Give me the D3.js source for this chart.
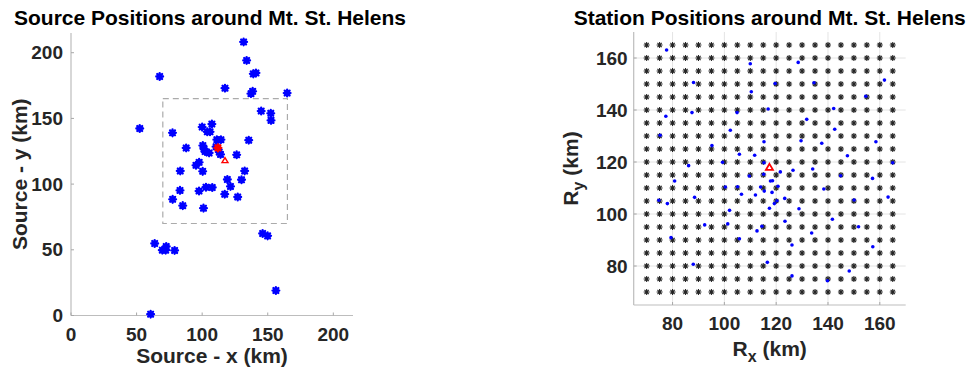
<!DOCTYPE html>
<html>
<head>
<meta charset="utf-8">
<script src="https://cdn.jsdelivr.net/npm/d3@7"></script>
<style>
  html, body { margin: 0; padding: 0; background: #fff; }
  svg { display: block; font-family: "Liberation Sans", Arial, Helvetica, sans-serif; }
</style>
</head>
<body>
<svg id="chart" width="970" height="371"></svg>
<script>
// ---- Source positions (km) ----
const sourceX = [131.6, 133.9, 67.6, 139.0, 141.0, 117.4, 138.5, 137.2, 164.8, 145.0, 152.3, 152.5,
  52.4, 77.4, 100.0, 107.4, 103.9, 106.0, 111.2, 114.3, 135.5, 87.8, 100.5, 101.5, 102.2, 105.3,
  110.6, 113.0, 114.0, 126.3, 95.3, 97.7, 83.3, 100.4, 132.4, 119.2, 130.0, 83.1, 97.6, 102.9,
  107.7, 121.6, 117.2, 127.1, 77.5, 85.2, 101.0, 63.8, 69.6, 72.2, 72.6, 79.0, 146.1, 149.9,
  156.2, 60.7];
const sourceY = [208.2, 194.1, 181.9, 183.9, 184.6, 173.0, 170.6, 168.8, 169.3, 155.6, 153.9, 148.5,
  142.3, 139.0, 143.4, 145.7, 139.8, 139.8, 133.8, 133.8, 133.4, 127.5, 129.3, 126.5, 124.8, 123.7,
  128.5, 124.4, 122.6, 122.3, 114.3, 116.6, 110.0, 109.7, 110.0, 103.5, 103.3, 95.2, 94.7, 97.6,
  97.4, 98.2, 92.3, 90.2, 88.4, 83.6, 81.7, 54.8, 49.7, 49.7, 52.5, 49.5, 62.4, 60.6,
  19.0, 1.0];

// highlighted source and the volcano summit
const highlightSource = [112.0, 127.6];
const summit = [117.4, 117.9];

// station grid limits (km) and spacing
const gridMin = 70, gridMax = 165, gridStep = 5;

// ---- Small blue points in the station panel (km) ----
const pointX = [77.7, 110.0, 88.1, 119.6, 110.4, 77.4, 87.5, 104.9, 116.9, 102.3, 75.2, 115.3,
  95.2, 105.8, 111.7, 86.2, 99.3, 115.3, 128.5, 134.6, 161.8, 154.6, 142.2, 131.8, 142.6, 129.6,
  137.6, 158.5, 147.5, 165.0, 134.1, 126.5, 109.6, 115.2, 117.8, 118.6, 80.8, 100.4, 105.1, 114.0,
  115.4, 106.6, 112.0, 118.4, 119.3, 74.7, 78.0, 88.5, 117.4, 102.0, 92.4, 101.3, 114.5, 112.6,
  79.4, 105.8, 116.6, 88.0, 121.6, 144.9, 157.2, 120.7, 138.4, 120.3, 123.3, 150.1, 163.2, 128.8,
  141.7, 123.4, 151.8, 133.7, 126.1, 157.3, 148.2, 126.1, 139.8];
const pointY = [163.1, 157.8, 150.6, 150.2, 147.0, 137.6, 139.0, 139.0, 140.4, 132.2, 130.3, 127.8,
  126.3, 123.0, 122.6, 118.6, 119.9, 119.7, 158.3, 150.5, 151.5, 145.3, 140.6, 136.4, 132.6, 128.2,
  127.2, 127.8, 122.4, 119.7, 117.3, 116.8, 114.6, 115.3, 112.7, 112.8, 112.7, 110.4, 110.5, 110.4,
  108.8, 107.6, 107.3, 108.3, 104.0, 105.3, 104.0, 106.4, 102.2, 101.4, 95.8, 96.2, 95.3, 93.5,
  90.9, 90.5, 81.4, 80.7, 116.2, 114.7, 113.7, 110.7, 109.6, 105.1, 106.0, 105.4, 106.5, 102.0,
  98.0, 97.2, 95.1, 92.7, 88.1, 87.4, 78.1, 76.2, 74.3];

// ---- Tick labels ----
const leftTicks = [0, 50, 100, 150, 200];
const rightTicks = [80, 100, 120, 140, 160];

const svg = d3.select("#chart");
const axisColor = "#bdbdbd";
const tickTextColor = "#262626";

// asterisk marker path (plus + cross)
function asterisk(r) {
  const d = r * 0.72;
  return `M${-r},0L${r},0M0,${-r}L0,${r}M${-d},${-d}L${d},${d}M${-d},${d}L${d},${-d}`;
}
function triangle(s) {
  const h = s * 0.85;
  return `M0,${-h * 0.6}L${s / 2},${h * 0.4}L${-s / 2},${h * 0.4}Z`;
}

function drawAxes(g, x, y, ticks, opts) {
  const [x0, x1] = x.range();
  const [y0, y1] = y.range();
  if (opts.grid) {
    g.append("g").selectAll("line.gx").data(ticks).join("line")
      .attr("x1", d => x(d)).attr("x2", d => x(d))
      .attr("y1", y0).attr("y2", y1)
      .attr("stroke", "#e4e4e4").attr("stroke-width", 1);
    g.append("g").selectAll("line.gy").data(ticks).join("line")
      .attr("x1", x0).attr("x2", x1)
      .attr("y1", d => y(d)).attr("y2", d => y(d))
      .attr("stroke", "#e4e4e4").attr("stroke-width", 1);
  }
  // axis lines
  g.append("line").attr("x1", x0).attr("x2", x1).attr("y1", y0).attr("y2", y0)
    .attr("stroke", axisColor).attr("stroke-width", 1.2);
  g.append("line").attr("x1", x0).attr("x2", x0).attr("y1", y0).attr("y2", y1)
    .attr("stroke", axisColor).attr("stroke-width", 1.2);
  // inward ticks
  const tl = 3;
  g.append("g").selectAll("line").data(ticks).join("line")
    .attr("x1", d => x(d)).attr("x2", d => x(d))
    .attr("y1", y0).attr("y2", y0 - tl)
    .attr("stroke", "#a8a8a8").attr("stroke-width", 1);
  g.append("g").selectAll("line").data(ticks).join("line")
    .attr("x1", x0).attr("x2", x0 + tl)
    .attr("y1", d => y(d)).attr("y2", d => y(d))
    .attr("stroke", "#a8a8a8").attr("stroke-width", 1);
  // tick labels
  g.append("g").selectAll("text").data(ticks).join("text")
    .attr("x", d => x(d)).attr("y", y0 + 25)
    .attr("text-anchor", "middle")
    .attr("font-size", 19).attr("font-weight", "bold")
    .attr("fill", tickTextColor)
    .text(d => d);
  g.append("g").selectAll("text").data(ticks).join("text")
    .attr("x", x0 - opts.yTickGap).attr("y", d => y(d) + 6.5)
    .attr("text-anchor", "end")
    .attr("font-size", 19).attr("font-weight", "bold")
    .attr("fill", tickTextColor)
    .text(d => d);
}

// =================== Left panel: sources ===================
const xL = d3.scaleLinear().domain([0, 215]).range([71, 353]);
const yL = d3.scaleLinear().domain([0, 215]).range([315.5, 33]);
const gL = svg.append("g");

drawAxes(gL, xL, yL, leftTicks, { grid: false, yTickGap: 8 });

// station-grid outline
gL.append("rect")
  .attr("x", xL(gridMin)).attr("y", yL(gridMax))
  .attr("width", xL(gridMax) - xL(gridMin))
  .attr("height", yL(gridMin) - yL(gridMax))
  .attr("fill", "none").attr("stroke", "#ababab")
  .attr("stroke-width", 1.2).attr("stroke-dasharray", "6,4");

const sources = sourceX.map((v, i) => [v, sourceY[i]]);
gL.append("g").selectAll("path").data(sources).join("path")
  .attr("transform", d => `translate(${xL(d[0])},${yL(d[1])})`)
  .attr("d", asterisk(3.4))
  .attr("stroke", "#0000ff").attr("stroke-width", 2.3)
  .attr("stroke-linecap", "round").attr("fill", "none");

gL.append("path")
  .attr("transform", `translate(${xL(highlightSource[0])},${yL(highlightSource[1])})`)
  .attr("d", asterisk(3.4))
  .attr("stroke", "#ff0000").attr("stroke-width", 2.4)
  .attr("stroke-linecap", "round").attr("fill", "none");
gL.append("circle")
  .attr("cx", xL(highlightSource[0])).attr("cy", yL(highlightSource[1])).attr("r", 2.6)
  .attr("fill", "#ff0000");

gL.append("path")
  .attr("transform", `translate(${xL(summit[0])},${yL(summit[1])})`)
  .attr("d", triangle(6))
  .attr("stroke", "#ff0000").attr("stroke-width", 1.4).attr("fill", "none");

gL.append("text")
  .attr("x", (xL.range()[0] + xL.range()[1]) / 2 - 2).attr("y", 25)
  .attr("text-anchor", "middle").attr("font-size", 21).attr("font-weight", "bold")
  .attr("fill", "#000")
  .text("Source Positions around Mt. St. Helens");
gL.append("text")
  .attr("x", 212).attr("y", 363)
  .attr("text-anchor", "middle").attr("font-size", 21).attr("font-weight", "bold")
  .attr("fill", tickTextColor)
  .text("Source - x (km)");
gL.append("text")
  .attr("transform", `translate(27,${(yL.range()[0] + yL.range()[1]) / 2}) rotate(-90)`)
  .attr("text-anchor", "middle").attr("font-size", 21).attr("font-weight", "bold")
  .attr("fill", tickTextColor)
  .text("Source - y (km)");

// =================== Right panel: stations ===================
const xR = d3.scaleLinear().domain([65, 170]).range([633.7, 905.7]);
const yR = d3.scaleLinear().domain([65, 170]).range([305, 32]);
const gR = svg.append("g");

drawAxes(gR, xR, yR, rightTicks, { grid: true, yTickGap: 6 });

const gridVals = d3.range(gridMin, gridMax + 0.001, gridStep);
const stations = gridVals.flatMap(gx => gridVals.map(gy => [gx, gy]));
gR.append("g").selectAll("path").data(stations).join("path")
  .attr("transform", d => `translate(${xR(d[0])},${yR(d[1])})`)
  .attr("d", asterisk(3))
  .attr("stroke", "#000").attr("stroke-width", 1.1).attr("fill", "none")
  .attr("opacity", 0.85);

const points = pointX.map((v, i) => [v, pointY[i]]);
gR.append("g").selectAll("circle").data(points).join("circle")
  .attr("cx", d => xR(d[0])).attr("cy", d => yR(d[1])).attr("r", 1.8)
  .attr("fill", "#0000ff");

gR.append("path")
  .attr("transform", `translate(${xR(summit[0])},${yR(summit[1])})`)
  .attr("d", triangle(7))
  .attr("stroke", "#ff0000").attr("stroke-width", 1.8).attr("fill", "none");

gR.append("text")
  .attr("x", (xR.range()[0] + xR.range()[1]) / 2).attr("y", 25)
  .attr("text-anchor", "middle").attr("font-size", 21).attr("font-weight", "bold")
  .attr("fill", "#000")
  .text("Station Positions around Mt. St. Helens");

const xlab = gR.append("text")
  .attr("x", (xR.range()[0] + xR.range()[1]) / 2).attr("y", 356)
  .attr("text-anchor", "middle").attr("font-size", 21).attr("font-weight", "bold")
  .attr("fill", tickTextColor);
xlab.append("tspan").text("R");
xlab.append("tspan").attr("font-size", 16).attr("dy", 6).text("x");
xlab.append("tspan").attr("dy", -6).text(" (km)");

const ylab = gR.append("text")
  .attr("transform", `translate(578,${(yR.range()[0] + yR.range()[1]) / 2}) rotate(-90)`)
  .attr("text-anchor", "middle").attr("font-size", 21).attr("font-weight", "bold")
  .attr("fill", tickTextColor);
ylab.append("tspan").text("R");
ylab.append("tspan").attr("font-size", 16).attr("dy", 6).text("y");
ylab.append("tspan").attr("dy", -6).text(" (km)");
</script>
</body>
</html>
